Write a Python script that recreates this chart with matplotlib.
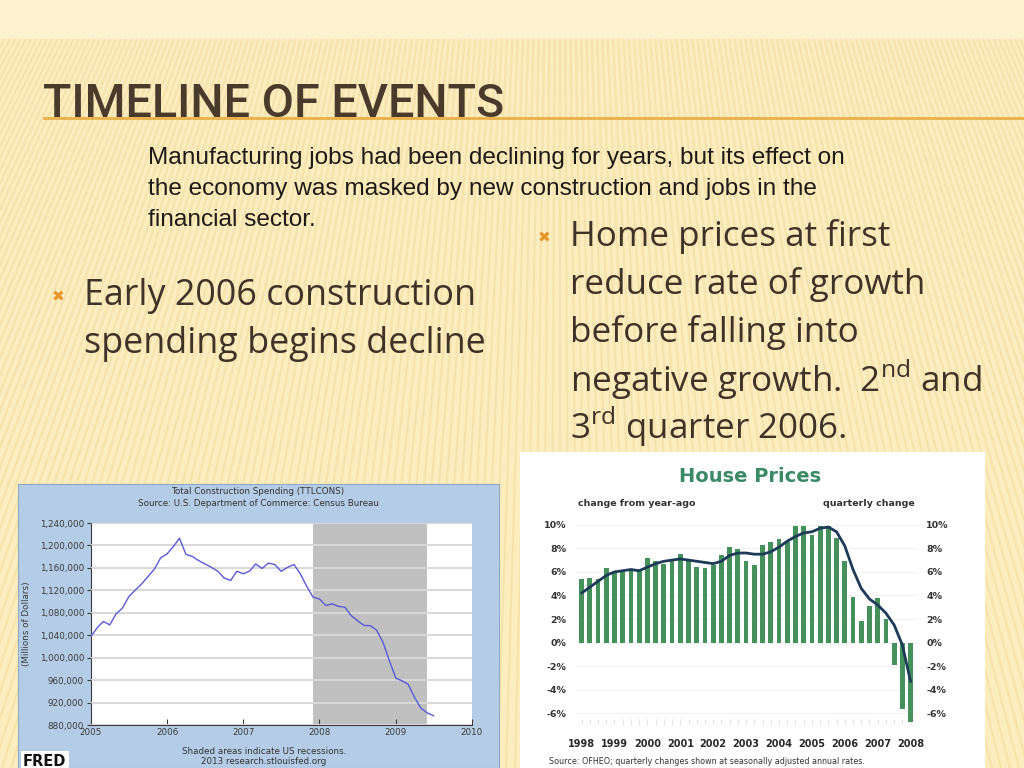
import matplotlib
matplotlib.use('Agg')
import matplotlib.pyplot as plt
import matplotlib.dates as mdates
import numpy as np
import pandas as pd

W, H = 1024, 768

# ---- construction spending (FRED TTLCONS), monthly Jan 2005 - Jul 2009, millions of dollars
cons_dates = pd.date_range('2005-01-01', periods=55, freq='MS')
cons_values = [
    1038000, 1054000, 1064500, 1058500, 1078000, 1088500, 1108500, 1120500, 1131500, 1144500, 1158000, 1178000,
    1185000, 1198500, 1213000, 1184000, 1180500, 1173000, 1167000, 1161000, 1154000, 1142000, 1137500, 1154000,
    1149500, 1154500, 1167000, 1159000, 1168500, 1166000, 1154000, 1161000, 1166000, 1149500, 1127000, 1108000,
    1104500, 1093000, 1096000, 1091500, 1090000, 1075000, 1066000, 1057500, 1057000, 1049000, 1027000, 994500,
    963500, 958500, 952500, 929000, 910000, 901500, 896500,
]
recession_start = pd.Timestamp('2007-12-01')
recession_end = pd.Timestamp('2009-06-01')
cons_yticks = [880000, 920000, 960000, 1000000, 1040000, 1080000, 1120000, 1160000, 1200000, 1240000]

# ---- house prices (OFHEO), quarterly 1998Q1 - 2008Q1, percent
hp_years = ['1998', '1999', '2000', '2001', '2002', '2003', '2004', '2005', '2006', '2007', '2008']
hp_quarterly = [
    5.4, 5.5, 5.4, 6.3,
    6.0, 6.0, 6.1, 6.2,
    7.2, 6.9, 6.7, 7.0,
    7.5, 6.9, 6.4, 6.3,
    6.6, 7.4, 8.1, 7.9,
    6.9, 6.6, 8.3, 8.5,
    8.8, 8.5, 9.9, 9.9,
    9.1, 9.9, 9.9, 8.9,
    6.9, 3.9, 1.8, 3.1,
    3.8, 2.0, -1.9, -5.6,
    -6.7,
]
hp_year_ago = [
    4.2, 4.7, 5.2, 5.7,
    6.0, 6.1, 6.2, 6.1,
    6.4, 6.7, 6.9, 7.0,
    7.1, 7.0, 6.9, 6.8,
    6.7, 6.9, 7.4, 7.6,
    7.6, 7.5, 7.5, 7.7,
    8.1, 8.6, 9.0, 9.3,
    9.4, 9.7, 9.8, 9.4,
    8.2, 6.2, 4.6, 3.7,
    3.2, 2.5, 1.5, -0.2,
    -3.3,
]
hp_yticks = [-6, -4, -2, 0, 2, 4, 6, 8, 10]

title = 'TIMELINE OF EVENTS'
intro_lines = [
    'Manufacturing jobs had been declining for years, but its effect on',
    'the economy was masked by new construction and jobs in the',
    'financial sector.',
]
left_bullet = ['Early 2006 construction', 'spending begins decline']
right_bullet = [
    'Home prices at first',
    'reduce rate of growth',
    'before falling into',
    r'negative growth.  2$^{\mathregular{nd}}$ and',
    r'3$^{\mathregular{rd}}$ quarter 2006.',
]

TEXT_COLOR = '#3f3226'
BULLET_COLOR = '#e8952a'
BODY_FONT = ['Open Sans', 'DejaVu Sans']
INTRO_FONT = ['Liberation Sans', 'DejaVu Sans']
TITLE_FONT = ['Roboto', 'DejaVu Sans']


def px_axes(fig, x, y, w, h, **kw):
    """Axes placed by pixel box (top-left origin)."""
    return fig.add_axes([x / W, 1 - (y + h) / H, w / W, h / H], **kw)


def fy(y):
    return 1 - y / H


def fx(x):
    return x / W


fig = plt.figure(figsize=(W / 100, H / 100), dpi=100)

# ---- slide background with faint fan of stripes
bg = px_axes(fig, 0, 0, W, H)
bg.set_xlim(0, W)
bg.set_ylim(H, 0)
bg.axis('off')
bg.add_patch(plt.Rectangle((0, 0), W, H, color='#fcedbf', zorder=0))
bg.add_patch(plt.Rectangle((0, 0), W, 38, color='#fdf2cf', zorder=0.5))
fx0, fy0 = 560, -1000
for xb in np.arange(-700, 1800, 9):
    bg.plot([fx0 + (xb - fx0) * (40 - fy0) / (H - fy0), xb], [40, H],
            color='#f1d89a', lw=1.6, alpha=0.5, zorder=1)
bg.plot([44, W], [118, 118], color='#e9b04a', lw=2, zorder=2)

# ---- title
fig.text(fx(43), fy(117), title, family=TITLE_FONT, fontsize=33.7, fontweight='medium',
         color='#4a3a2b', va='baseline', ha='left', zorder=5)

# ---- body text
for i, line in enumerate(intro_lines):
    fig.text(fx(148), fy(158 + i * 31), line, family=INTRO_FONT, fontsize=17.6,
             color='#1e1a16', va='center', ha='left')

fig.text(fx(58), fy(297), '\u2716', family='DejaVu Sans', fontsize=11,
         color=BULLET_COLOR, va='center', ha='center')
for i, line in enumerate(left_bullet):
    fig.text(fx(84), fy(296 + i * 48), line, family=BODY_FONT, fontsize=25.8,
             color=TEXT_COLOR, va='center', ha='left')

fig.text(fx(544), fy(238), '\u2716', family='DejaVu Sans', fontsize=11,
         color=BULLET_COLOR, va='center', ha='center')
for i, line in enumerate(right_bullet):
    fig.text(fx(570), fy(237 + i * 47.5), line, family=BODY_FONT, fontsize=25.2,
             color=TEXT_COLOR, va='center', ha='left')

# ---- FRED construction chart
fred_bg = px_axes(fig, 18, 484, 481, 284)
fred_bg.set_facecolor('#b5cce6')
fred_bg.set_xticks([])
fred_bg.set_yticks([])
for s in fred_bg.spines.values():
    s.set_color('#8fa8c4')

ax1 = px_axes(fig, 91, 523, 381, 202)
ax1.set_facecolor('white')
ax1.plot(cons_dates, cons_values, color='#5a5ad6', lw=1.0, zorder=3)
ax1.axvspan(recession_start, recession_end, color='#c0c0c0', lw=0, zorder=1)
ax1.set_xlim(pd.Timestamp('2005-01-01'), pd.Timestamp('2010-01-01'))
ax1.set_ylim(880000, 1240000)
ax1.set_yticks(cons_yticks)
ax1.set_yticklabels([f'{v:,}' for v in cons_yticks])
ax1.yaxis.grid(True, color='#d8d8d8', lw=1.4, zorder=2)
ax1.set_axisbelow(False)
ax1.xaxis.set_major_locator(mdates.YearLocator())
ax1.xaxis.set_major_formatter(mdates.DateFormatter('%Y'))
ax1.tick_params(axis='both', labelsize=6.3, colors='#3a3a3a', length=3, width=0.8, pad=2)
ax1.tick_params(axis='x', direction='in', length=4)
for name in ('top', 'right'):
    ax1.spines[name].set_visible(False)
ax1.spines['left'].set_color('#3a3a3a')
ax1.spines['bottom'].set_color('#3a3a3a')
ax1.set_ylabel('(Millions of Dollars)', fontsize=6.3, color='#3a3a3a', labelpad=6)

fig.text(fx(258), fy(492), 'Total Construction Spending (TTLCONS)', fontsize=6.3,
         color='#333333', ha='center', va='center')
fig.text(fx(258), fy(503), 'Source: U.S. Department of Commerce: Census Bureau', fontsize=6.3,
         color='#333333', ha='center', va='center')
fig.text(fx(264), fy(751), 'Shaded areas indicate US recessions.', fontsize=6.3,
         color='#333333', ha='center', va='center')
fig.text(fx(264), fy(762), '2013 research.stlouisfed.org', fontsize=6.3,
         color='#333333', ha='center', va='center')
fig.text(fx(23), fy(761), 'FRED', fontsize=10.5, fontweight='bold', color='#111111',
         ha='left', va='center',
         bbox=dict(boxstyle='square,pad=0.15', fc='white', ec='none'))

# ---- OFHEO house price chart
hp_bg = px_axes(fig, 520, 452, 465, 316)
hp_bg.set_facecolor('white')
hp_bg.set_xticks([])
hp_bg.set_yticks([])
for s in hp_bg.spines.values():
    s.set_visible(False)

ax2 = px_axes(fig, 575, 520, 343, 204)
idx = np.arange(len(hp_quarterly))
ax2.bar(idx, hp_quarterly, width=0.58, color='#44915c', zorder=2)
ax2.plot(idx, hp_year_ago, color='#1d3a58', lw=2.0, zorder=3, solid_capstyle='round')
ax2.set_xlim(-0.8, 40.9)
ax2.set_ylim(-6.9, 10.4)
ax2.set_yticks(hp_yticks)
ax2.set_yticklabels([f'{v}%' for v in hp_yticks])
ax2.yaxis.grid(True, color='#f2f2f2', lw=0.8, zorder=0)
ax2.set_axisbelow(True)
ax2.set_xticks(idx[::4])
ax2.set_xticklabels(hp_years)
ax2.set_xticks(idx, minor=True)
ax2.tick_params(axis='x', which='both', length=0, labelsize=7, pad=11, colors='#2a2a2a')
ax2.tick_params(axis='y', length=0, labelsize=6.8, colors='#333333', pad=6,
                labelright=True)
for lbl in ax2.get_xticklabels() + ax2.get_yticklabels():
    lbl.set_fontweight('bold')
for s in ax2.spines.values():
    s.set_visible(False)
for q in idx:
    ax2.plot([q, q], [-6.9, -6.5], color='#dddddd', lw=0.6, clip_on=False, zorder=1)

fig.text(fx(750), fy(477), 'House Prices', fontsize=14, fontweight='bold',
         color='#3a8a66', ha='center', va='center')
fig.text(fx(578), fy(504), 'change from year-ago', fontsize=6.8, fontweight='bold',
         color='#333333', ha='left', va='center')
fig.text(fx(915), fy(504), 'quarterly change', fontsize=6.8, fontweight='bold',
         color='#333333', ha='right', va='center')
fig.text(fx(549), fy(762), 'Source: OFHEO; quarterly changes shown at seasonally adjusted annual rates.',
         fontsize=5.8, color='#333333', ha='left', va='center')

fig.savefig('out.png', dpi=100)
